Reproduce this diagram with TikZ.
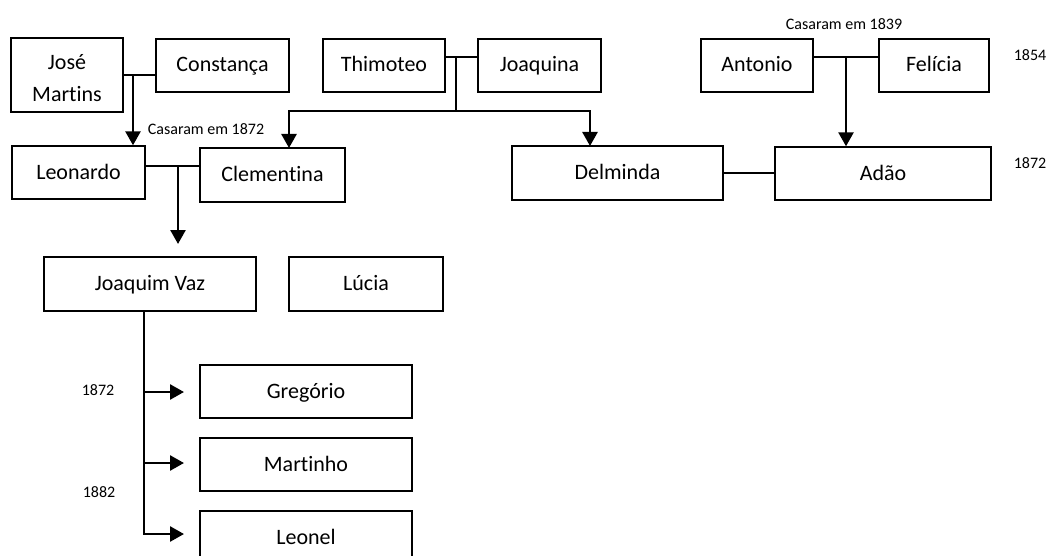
\documentclass[tikz,border=0pt]{standalone}
\usepackage{fontspec}
\setmainfont{Carlito}[Ligatures=NoCommon]
\usetikzlibrary{arrows.meta}
\begin{document}
\begin{tikzpicture}[x=1pt,y=-1pt,
  person/.style={draw, line width=1.4pt, inner sep=0pt, align=center,
    font=\fontsize{22}{32}\selectfont, minimum height=53pt,
    text height=15pt, text depth=2pt},
  link/.style={line width=1.6pt},
  descent/.style={line width=2.6pt, -{Triangle[length=14pt,width=15pt]}},
  note/.style={font=\fontsize{16}{19}\selectfont, inner sep=0pt}]
\clip (0,0) rectangle (1048,556);
\fill[white] (0,0) rectangle (1048,556);

% first generation
\node[person, minimum width=112pt, minimum height=74pt, text height=54pt, text depth=0pt]
  (jose) at (67,75) {José\\Martins};
\node[person, minimum width=133pt] (cons) at (222.5,65.5) {Constança};
\node[person, minimum width=122pt] (thim) at (384,65.5) {Thimoteo};
\node[person, minimum width=123pt] (joaq) at (539.5,65.5) {Joaquina};
\node[person, minimum width=112pt] (anto) at (757,65.5) {Antonio};
\node[person, minimum width=110pt] (feli) at (934,65.5) {Felícia};

% second generation
\node[person, minimum width=133pt] (leon) at (78.5,172.5) {Leonardo};
\node[person, minimum width=145pt, minimum height=54pt] (clem) at (272.5,175) {Clementina};
\node[person, minimum width=211pt, minimum height=54pt] (delm) at (617.5,173) {Delminda};
\node[person, minimum width=216pt] (adao) at (883,173.5) {Adão};

% third generation
\node[person, minimum width=212pt, minimum height=54pt] (jvaz) at (150,284) {Joaquim Vaz};
\node[person, minimum width=154pt, minimum height=54pt] (lucia) at (366,284) {Lúcia};

% fourth generation
\node[person, minimum width=212pt] (greg) at (306,391.5) {Gregório};
\node[person, minimum width=212pt] (mart) at (306,464.5) {Martinho};
\node[person, minimum width=212pt] (leonel) at (306,537.5) {Leonel};

% notes
\node[note] (c1872) at (206,129) {Casaram em 1872};
\node[note] (c1839) at (844,24) {Casaram em 1839};
\node[note] (y1854) at (1030,55) {1854};
\node[note] (y1872a) at (1030,163) {1872};
\node[note] (y1872b) at (98,390) {1872};
\node[note] (y1882) at (99,492) {1882};

% José Martins + Constança
\coordinate (jm) at (133,75);
\draw[link] (jose.east) -- (jose.east -| cons.west);
\draw[descent] (jm) -- (jm |- leon.north);

% Thimoteo + Joaquina
\coordinate (tj) at (456,57);
\coordinate (tjd) at (456,111);
\coordinate (toclem) at (289,148);
\coordinate (todelm) at (590,146);
\draw[link] (thim.east |- tj) -- (joaq.west |- tj);
\draw[link] (tj) -- (tjd);
\draw[descent] (tjd) -| (toclem);
\draw[descent] (tjd) -| (todelm);

% Antonio + Felícia
\coordinate (af) at (846,57);
\draw[link] (anto.east |- af) -- (feli.west |- af);
\draw[descent] (af) -- (af |- adao.north);

% Delminda + Adão
\draw[link] (delm.east) -- (delm.east -| adao.west);

% Leonardo + Clementina
\coordinate (lc) at (178,166);
\coordinate (lctip) at (178,244);
\draw[link] (leon.east |- lc) -- (clem.west |- lc);
\draw[descent] (lc) -- (lctip);

% children of Joaquim Vaz
\coordinate (jv) at (144,311);
\coordinate (gtip) at (184,392);
\coordinate (mtip) at (184,463);
\coordinate (ltip) at (184,534);
\draw[descent] (jv) |- (ltip);
\draw[descent] (jv |- gtip) -- (gtip);
\draw[descent] (jv |- mtip) -- (mtip);
\end{tikzpicture}
\end{document}
